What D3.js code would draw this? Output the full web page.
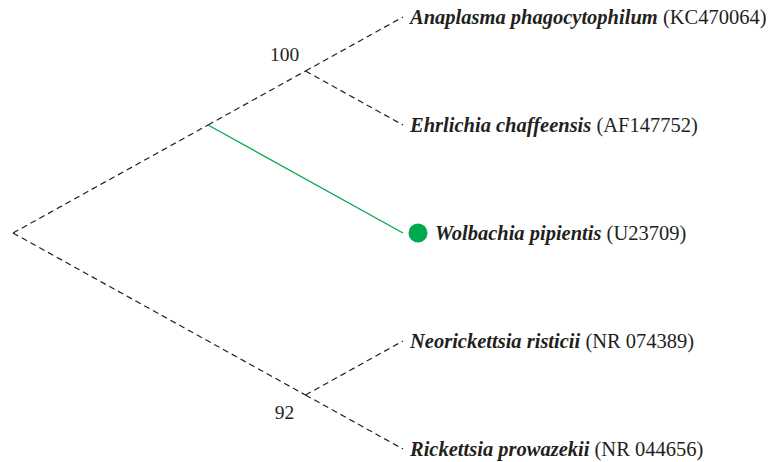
<!DOCTYPE html>
<html>
<head>
<meta charset="utf-8">
<script src="https://cdn.jsdelivr.net/npm/d3@7"></script>
<style>
  body { margin: 0; background: #fff; }
  svg text { font-family: "Liberation Serif", "DejaVu Serif", serif; fill: #231f20; }
</style>
</head>
<body>
<div id="chart"></div>
<script>
// tree: leaves in top-to-bottom order
var species = ["Anaplasma phagocytophilum", "Ehrlichia chaffeensis", "Wolbachia pipientis",
               "Neorickettsia risticii", "Rickettsia prowazekii"];
var accessions = ["KC470064", "AF147752", "U23709", "NR 074389", "NR 044656"];
var highlighted = ["Wolbachia pipientis"];
var clades = [
    { name: "root", parent: null, support: null },
    { name: "n1", parent: "root", support: null },
    { name: "n2", parent: "n1", support: "100" },
    { name: "n3", parent: "root", support: "92" }
];
var leafParents = ["n2", "n2", "n1", "n3", "n3"];

var width = 777, height = 462;

var rows = clades.map(function(c) { return { id: c.name, parentId: c.parent, support: c.support }; });
species.forEach(function(s, i) {
    rows.push({ id: s, parentId: leafParents[i], accession: accessions[i] });
});
var root = d3.stratify().id(function(d) { return d.id; }).parentId(function(d) { return d.parentId; })(rows);

// leaf rows
var y = d3.scalePoint().domain(species).range([17, 449]);
// slanted cladogram: x depends on half the vertical span of a clade
var x = d3.scaleLinear().domain([0, 216]).range([403, 13]);

root.eachAfter(function(n) {
    if (!n.children) {
        n.py = y(n.id);
        n.lo = n.hi = n.py;
    } else {
        n.lo = d3.min(n.children, function(c) { return c.lo; });
        n.hi = d3.max(n.children, function(c) { return c.hi; });
        n.py = (n.lo + n.hi) / 2;
    }
    n.px = x((n.hi - n.lo) / 2);
});

var svg = d3.select("#chart").append("svg")
    .attr("width", width)
    .attr("height", height);

svg.selectAll(".link")
    .data(root.links())
    .enter().append("line")
    .attr("class", "link")
    .attr("x1", function(d) { return d.source.px; })
    .attr("y1", function(d) { return d.source.py; })
    .attr("x2", function(d) { return d.target.px; })
    .attr("y2", function(d) { return d.target.py; })
    .attr("stroke", function(d) { return highlighted.indexOf(d.target.id) >= 0 ? "#00a84f" : "#231f20"; })
    .attr("stroke-width", function(d) { return highlighted.indexOf(d.target.id) >= 0 ? 1.3 : 1.2; })
    .attr("stroke-dasharray", function(d) { return highlighted.indexOf(d.target.id) >= 0 ? null : "6,4"; });

// support values
var supports = root.descendants().filter(function(n) { return n.data.support; });
svg.selectAll(".support")
    .data(supports)
    .enter().append("text")
    .attr("class", "support")
    .attr("x", function(n) { return n.px - 21; })
    .attr("y", function(n) { return n.py < 233 ? n.py - 10 : n.py + 24; })
    .attr("text-anchor", "middle")
    .style("font-size", "19.5px")
    .text(function(n) { return n.data.support; });

var leaves = root.leaves();

svg.selectAll(".dot")
    .data(leaves.filter(function(n) { return highlighted.indexOf(n.id) >= 0; }))
    .enter().append("circle")
    .attr("class", "dot")
    .attr("cx", function(n) { return n.px + 15; })
    .attr("cy", function(n) { return n.py; })
    .attr("r", 9.5)
    .attr("fill", "#00a84f");

var label = svg.selectAll(".label")
    .data(leaves)
    .enter().append("text")
    .attr("class", "label")
    .attr("x", function(n) { return n.px + (highlighted.indexOf(n.id) >= 0 ? 32 : 7); })
    .attr("y", function(n) { return n.py; })
    .attr("dy", ".35em")
    .style("font-size", "20.5px");

label.append("tspan")
    .style("font-style", "italic")
    .style("font-weight", "bold")
    .text(function(n) { return n.id; });

label.append("tspan")
    .text(function(n) { return " (" + n.data.accession + ")"; });
</script>
</body>
</html>
